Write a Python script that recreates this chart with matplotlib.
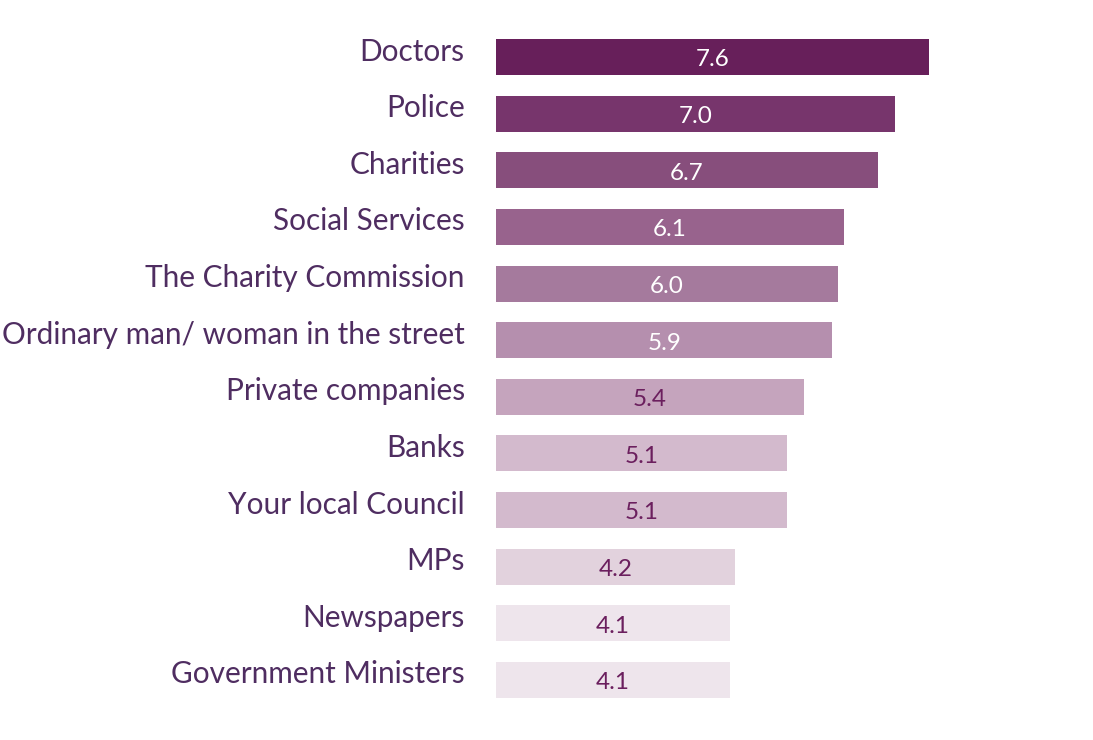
import matplotlib
matplotlib.use("Agg")
import matplotlib.pyplot as plt
import matplotlib.transforms as mtransforms

categories = [
    "Doctors", "Police", "Charities", "Social Services", "The Charity Commission",
    "Ordinary man/ woman in the street", "Private companies", "Banks",
    "Your local Council", "MPs", "Newspapers", "Government Ministers",
]
values = [7.6, 7.0, 6.7, 6.1, 6.0, 5.9, 5.4, 5.1, 5.1, 4.2, 4.1, 4.1]
bar_colors = [
    "#671F5A", "#77356C", "#874E7C", "#98638D", "#A57A9D", "#B58FAE",
    "#C5A4BD", "#D3BACD", "#D3BACD", "#E2D2DD", "#EEE5EC", "#EEE5EC",
]
value_text_colors = ["white"] * 6 + ["#6B1F5E"] * 6

plt.rcParams["font.family"] = ["Lato", "DejaVu Sans"]

W, H = 1093, 740
fig = plt.figure(figsize=(W / 100, H / 100), dpi=100)
ax = fig.add_axes([496 / W, 0, 1 - 496 / W, 1])

ypos = list(range(len(categories)))
ax.barh(ypos, values, height=0.635, color=bar_colors, edgecolor="none")

for y, v, tc in zip(ypos, values, value_text_colors):
    ax.text(v / 2, y + 0.05, f"{v:.1f}", ha="center", va="center",
            fontsize=17.5, color=tc)

ax.set_xlim(0, (W - 496) / 57.0)
ax.set_ylim(len(categories) - 1 + 1.06, -1.007)
ax.set_yticks(ypos)
ax.set_yticklabels(categories, fontsize=21.4, color="#4F2D61")
ax.tick_params(axis="y", length=0, pad=22.5)
ax.tick_params(axis="x", bottom=False, labelbottom=False)
for s in ax.spines.values():
    s.set_visible(False)

# lift the category labels a little above the bar centres
offset = mtransforms.ScaledTranslation(0, 5.5 / 100, fig.dpi_scale_trans)
for lbl in ax.get_yticklabels():
    lbl.set_verticalalignment("center")
    lbl.set_transform(lbl.get_transform() + offset)

fig.savefig("out.png", dpi=100, facecolor="white")
